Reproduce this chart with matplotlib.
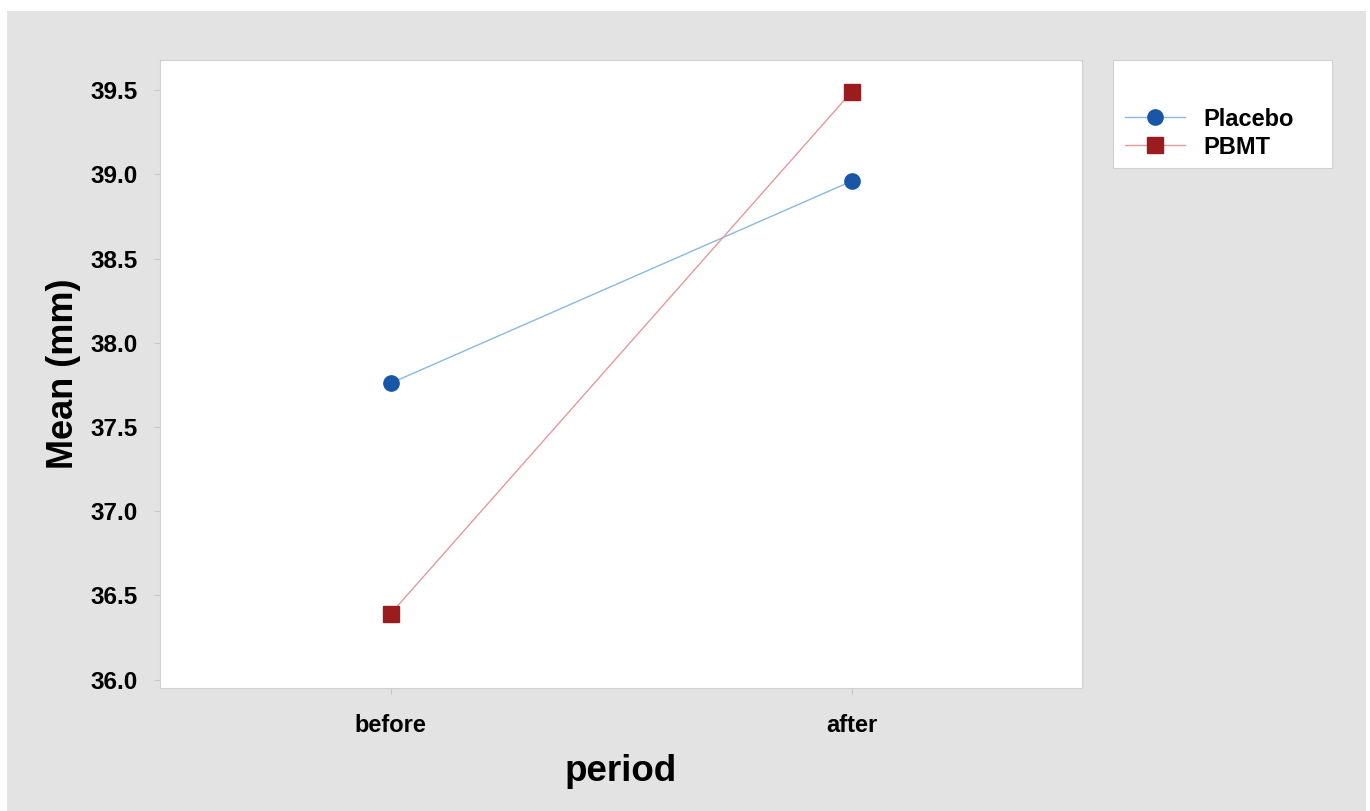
import matplotlib.pyplot as plt
from matplotlib.patches import Rectangle

plt.rcParams['font.family'] = ['Liberation Sans', 'DejaVu Sans']
plt.rcParams['font.weight'] = 'bold'

# ------------------------------------------------------------
# Daten
# ------------------------------------------------------------
periods = ["before", "after"]
placebo = [37.76, 38.96]
pbmt = [36.39, 39.49]
yticks = [36.0, 36.5, 37.0, 37.5, 38.0, 38.5, 39.0, 39.5]

W, H = 1370, 811
fig = plt.figure(figsize=(W / 100, H / 100), dpi=100, facecolor="white")

# grauer Hintergrund mit schmalem weissem Rand
fig.patches.append(Rectangle((7 / W, 0), (1366 - 7) / W, 1 - 11 / H,
                             transform=fig.transFigure, facecolor="#e3e3e3",
                             edgecolor="none", zorder=-5))

ax = fig.add_axes([160 / W, 1 - 688 / H, (1082 - 160) / W, (688 - 60) / H])
ax.set_facecolor("white")
ax.set_zorder(1)

x = list(range(len(periods)))
ax.plot(x, placebo, color="#8ab8e2", lw=1.0, marker="o", ms=11,
        mfc="#1a56a8", mec="#1a56a8", label="Placebo", zorder=3)
ax.plot(x, pbmt, color="#e39a9a", lw=1.0, marker="s", ms=11,
        mfc="#9b1c1c", mec="#9b1c1c", label="PBMT", zorder=3)

ax.set_xlim(-0.5, 1.5)
ax.set_ylim(35.95, 39.68)
ax.set_xticks(x)
ax.set_xticklabels(periods, fontsize=17, fontweight="bold")
ax.set_yticks(yticks)
ax.set_yticklabels([f"{v:.1f}" for v in yticks], fontsize=17.5, fontweight="bold")
ax.tick_params(axis="both", direction="out", length=4, color="#c8c8c8", width=0.8)
ax.tick_params(axis="y", pad=12)
ax.tick_params(axis="x", pad=15)
for sp in ax.spines.values():
    sp.set_color("#d0d0d0")
    sp.set_linewidth(0.8)

ax.set_xlabel("period", fontsize=26.5, fontweight="bold", labelpad=12)
ax.set_ylabel("Mean (mm)", fontsize=26, fontweight="bold", labelpad=7)

# Legendenbox
fig.patches.append(Rectangle((1113 / W, 1 - 168 / H), (1332 - 1113) / W, 108 / H,
                             transform=fig.transFigure, facecolor="white",
                             edgecolor="#d0d0d0", lw=0.8, zorder=1))
handles, labels = ax.get_legend_handles_labels()
leg = fig.legend(handles, labels, loc="upper left",
                 bbox_to_anchor=(1125 / W, 1 - 107.5 / H),
                 frameon=False, fontsize=17, handlelength=2.54,
                 handletextpad=0.76, labelspacing=0.22, borderaxespad=0,
                 borderpad=0)
leg.set_zorder(2)

fig.savefig("out.png", dpi=100, facecolor="white")
